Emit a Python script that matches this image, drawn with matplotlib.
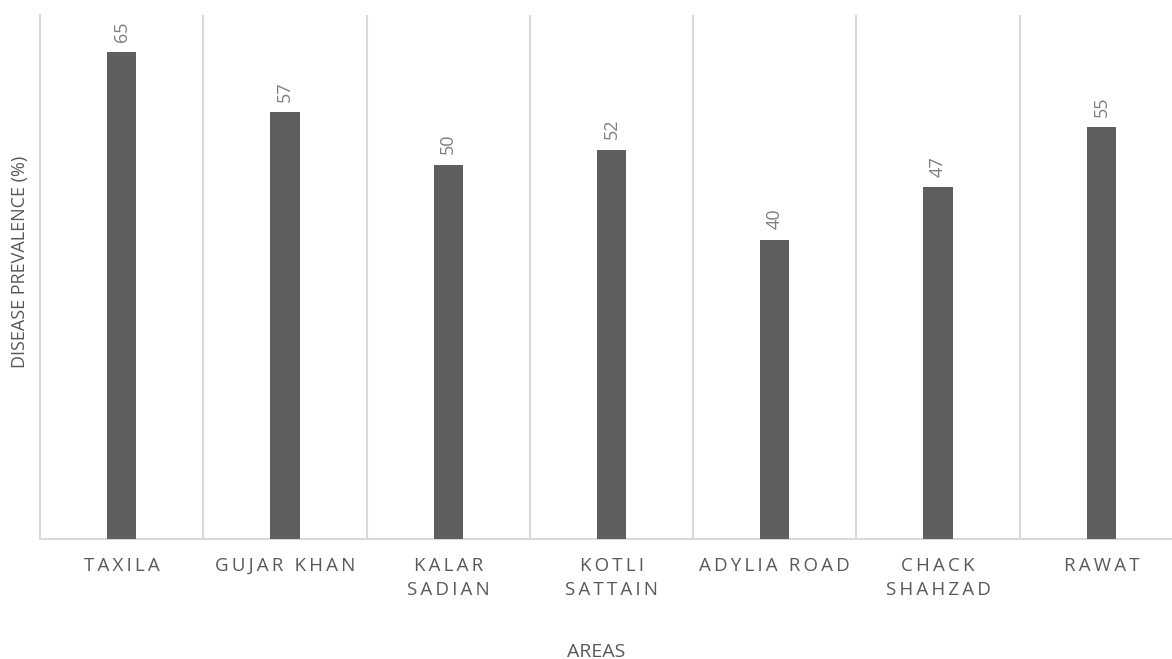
import matplotlib
matplotlib.use("Agg")
import matplotlib.pyplot as plt

areas = ["TAXILA", "GUJAR KHAN", "KALAR\nSADIAN", "KOTLI\nSATTAIN",
         "ADYLIA ROAD", "CHACK\nSHAHZAD", "RAWAT"]
prevalence = [65, 57, 50, 52, 40, 47, 55]

plt.rcParams['font.family'] = ['Open Sans', 'DejaVu Sans']

W, H = 1172, 659
fig = plt.figure(figsize=(W / 100, H / 100), dpi=100)
left, right, top, bottom = 40, 1183, 15, 539
ax = fig.add_axes([left / W, (H - bottom) / H, (right - left) / W, (bottom - top) / H])

x = list(range(len(areas)))
ax.bar(x, prevalence, width=0.18, color="#5f5f5f", zorder=3)
ax.set_xlim(-0.5, len(areas) - 0.5)
ax.set_ylim(0, 70)

grid_col = "#d9d9d9"
for b in [i + 0.5 for i in range(len(areas) - 1)]:
    ax.axvline(b, color=grid_col, lw=1.5, zorder=1)
for s in ["top", "right"]:
    ax.spines[s].set_visible(False)
for s in ["left", "bottom"]:
    ax.spines[s].set_color(grid_col)
    ax.spines[s].set_linewidth(1.5)

ax.set_yticks([])

THIN = "\u2009"

def spaced(t):
    lines = []
    for line in t.split("\n"):
        words = [THIN.join(list(w)) for w in line.split(" ")]
        lines.append((THIN + " " + THIN).join(words))
    return "\n".join(lines)

ax.set_xticks(x)
ax.set_xticklabels([spaced(a) for a in areas], fontsize=13.5, color="#595959",
                   linespacing=1.45)
ax.tick_params(axis="x", length=0, pad=13)

for xi, v in zip(x, prevalence):
    ax.annotate(str(v), (xi, v), xytext=(0, 7.5), textcoords="offset points",
                rotation=90, ha="center", va="bottom", fontsize=13, color="#7f7f7f")

fig.text(596 / W, 1 - 652 / H, "AREAS", ha="center", va="center",
         fontsize=14, color="#595959")
fig.text(20 / W, 1 - 262 / H, "DISEASE PREVALENCE (%)", ha="center", va="center",
         rotation=90, fontsize=13, color="#595959")

fig.savefig("out.png", dpi=100)
